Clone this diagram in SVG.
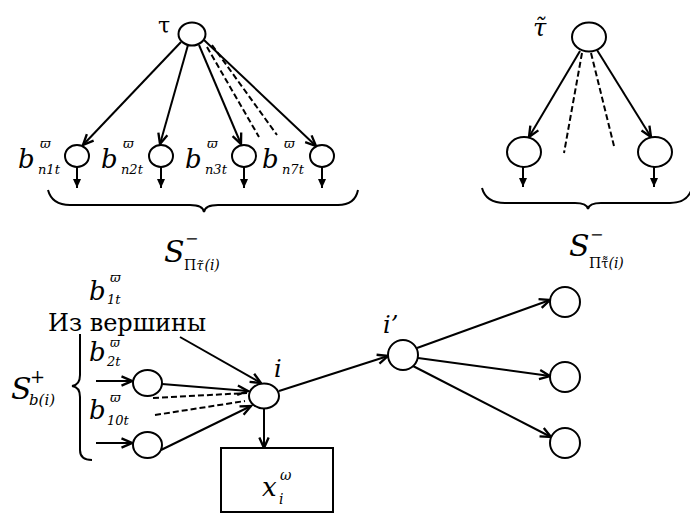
<svg xmlns="http://www.w3.org/2000/svg" width="690" height="517" viewBox="0 0 690 517">
<defs>
<style>
.n{fill:#fff;stroke:#000;stroke-width:2}
.c{fill:none;stroke:#000;stroke-width:2}
.d{fill:none;stroke:#000;stroke-width:2;stroke-dasharray:6 3}
.br{fill:none;stroke:#000;stroke-width:2}
.t{fill:#000;font-family:'DejaVu Serif','Liberation Serif',serif}
.it{font-style:italic}
</style>
<marker id="a" markerUnits="userSpaceOnUse" markerWidth="14" markerHeight="14" refX="10" refY="5" orient="auto" viewBox="0 0 12 10">
<path d="M1,1 L10,5 L1,9" fill="none" stroke="#000" stroke-width="2"/>
</marker>
<marker id="f" markerUnits="userSpaceOnUse" markerWidth="10" markerHeight="10" refX="9" refY="4" orient="auto" viewBox="0 0 10 8">
<path d="M0,0 L9,4 L0,8 Z" fill="#000"/>
</marker>
</defs>
<rect width="690" height="517" fill="#fff"/>

<g id="connectors">
<line class="c" x1="181" y1="42" x2="83" y2="145" marker-end="url(#a)"/>
<line class="c" x1="188" y1="45" x2="160" y2="144" marker-end="url(#a)"/>
<line class="c" x1="199" y1="45" x2="241" y2="144" marker-end="url(#a)"/>
<line class="c" x1="204" y1="40" x2="316" y2="146" marker-end="url(#a)"/>
<line class="d" x1="207" y1="47" x2="259" y2="137"/>
<line class="d" x1="212" y1="45" x2="277" y2="135"/>
<line class="c" x1="77" y1="167" x2="77" y2="188" marker-end="url(#f)"/>
<line class="c" x1="161" y1="167" x2="161" y2="188" marker-end="url(#f)"/>
<line class="c" x1="244" y1="167" x2="244" y2="188" marker-end="url(#f)"/>
<line class="c" x1="322" y1="167" x2="322" y2="188" marker-end="url(#f)"/>

<line class="c" x1="580" y1="51" x2="529" y2="137" marker-end="url(#a)"/>
<line class="c" x1="597" y1="50" x2="651" y2="137" marker-end="url(#a)"/>
<line class="d" x1="582" y1="53" x2="564" y2="153"/>
<line class="d" x1="591" y1="53" x2="614" y2="146"/>
<line class="c" x1="523" y1="167" x2="523" y2="187" marker-end="url(#f)"/>
<line class="c" x1="654" y1="167" x2="654" y2="187" marker-end="url(#f)"/>

<line class="c" x1="180" y1="337" x2="261" y2="383" marker-end="url(#a)"/>
<line class="c" x1="96" y1="381" x2="132" y2="381" marker-end="url(#a)"/>
<line class="c" x1="96" y1="443" x2="132" y2="443" marker-end="url(#a)"/>
<line class="c" x1="162" y1="384" x2="248" y2="391" marker-end="url(#a)"/>
<line class="c" x1="161" y1="450" x2="251" y2="406" marker-end="url(#a)"/>
<line class="d" x1="153" y1="398" x2="247" y2="393"/>
<line class="d" x1="155" y1="415" x2="245" y2="401"/>
<line class="c" x1="264" y1="409" x2="264" y2="448" marker-end="url(#a)"/>
<line class="c" x1="279" y1="391" x2="388" y2="356" marker-end="url(#a)"/>
<line class="c" x1="417" y1="348" x2="550" y2="300" marker-end="url(#a)"/>
<line class="c" x1="418" y1="358" x2="550" y2="376" marker-end="url(#a)"/>
<line class="c" x1="413" y1="366" x2="551" y2="437" marker-end="url(#a)"/>
</g>

<g id="braces">
<path class="br" d="M48,190 Q52,205 70,205 L190,205 Q203,205 204,212 Q205,205 218,205 L338,205 Q355,205 358,190"/>
<path class="br" d="M482,188 Q486,203 505,203 L575,203 Q587,203 588,209 Q589,203 601,203 L670,203 Q688,203 692,188"/>
<path class="br" d="M80,334 L80,375 Q80,385 72,386 Q80,387 80,397 L80,450 Q80,460 92,460"/>
</g>

<g id="tau">
<ellipse class="n" cx="192" cy="34" rx="13.5" ry="11.5"/>
<text class="t" x="158" y="33" font-size="22">τ</text>
</g>
<g id="bn1t">
<ellipse class="n" cx="77" cy="156" rx="12" ry="11"/>
<text class="t it" x="18" y="168" font-size="26">b</text>
<text class="t it" x="40" y="148" font-size="13">ϖ</text>
<text class="t it" x="38" y="174" font-size="13">n1t</text>
</g>
<g id="bn2t">
<ellipse class="n" cx="161" cy="156" rx="12" ry="11"/>
<text class="t it" x="101" y="168" font-size="26">b</text>
<text class="t it" x="123" y="148" font-size="13">ϖ</text>
<text class="t it" x="121" y="174" font-size="13">n2t</text>
</g>
<g id="bn3t">
<ellipse class="n" cx="244" cy="156" rx="12" ry="11"/>
<text class="t it" x="185" y="168" font-size="26">b</text>
<text class="t it" x="207" y="148" font-size="13">ϖ</text>
<text class="t it" x="205" y="174" font-size="13">n3t</text>
</g>
<g id="bn7t">
<ellipse class="n" cx="322" cy="156" rx="12" ry="11"/>
<text class="t it" x="262" y="168" font-size="26">b</text>
<text class="t it" x="284" y="148" font-size="13">ϖ</text>
<text class="t it" x="282" y="174" font-size="13">n7t</text>
</g>
<g id="label-S-left">
<text class="t it" x="164" y="262" font-size="30">S</text>
<text class="t" x="185" y="244" font-size="16">−</text>
<text class="t" x="184" y="270" font-size="14">Π<tspan font-style="italic" font-size="13">τ̃</tspan><tspan dx="1" font-style="italic">(i)</tspan></text>
</g>

<g id="tau-tilde">
<ellipse class="n" cx="589" cy="37" rx="17" ry="14.5"/>
<text class="t it" x="533" y="36" font-size="24">τ̃</text>
</g>
<g id="rt1">
<ellipse class="n" cx="524" cy="152" rx="17" ry="15"/>
</g>
<g id="rt2">
<ellipse class="n" cx="655" cy="152" rx="17" ry="15"/>
</g>
<g id="label-S-right">
<text class="t it" x="569" y="256" font-size="30">S</text>
<text class="t" x="590" y="240" font-size="16">−</text>
<text class="t" x="589" y="268" font-size="14">Π<tspan font-size="13">τ̃̃</tspan><tspan font-style="italic">(i)</tspan></text>
</g>

<g id="b1t">
<text class="t it" x="89" y="300" font-size="26">b</text>
<text class="t it" x="110" y="282" font-size="13">ϖ</text>
<text class="t it" x="107" y="304" font-size="13">1t</text>
</g>
<text class="t" x="48" y="331" font-size="24">Из вершины</text>
<g id="b2t">
<text class="t it" x="89" y="361" font-size="26">b</text>
<text class="t it" x="110" y="347" font-size="12">ϖ</text>
<text class="t it" x="107" y="366" font-size="13">2t</text>
</g>
<g id="b10t">
<text class="t it" x="89" y="419" font-size="26">b</text>
<text class="t it" x="110" y="402" font-size="13">ϖ</text>
<text class="t it" x="107" y="425" font-size="13">10t</text>
</g>
<g id="S-plus">
<text class="t it" x="11" y="399" font-size="30">S</text>
<text class="t" x="30" y="383" font-size="18">+</text>
<text class="t it" x="29" y="405" font-size="15">b(i)</text>
</g>
<g id="in1">
<ellipse class="n" cx="147.5" cy="383" rx="14.5" ry="13"/>
</g>
<g id="in2">
<ellipse class="n" cx="147.5" cy="445" rx="14.5" ry="13"/>
</g>
<g id="node-i">
<ellipse class="n" cx="264" cy="396" rx="15" ry="12.5"/>
<text class="t it" x="274" y="377" font-size="24">i</text>
</g>
<g id="box-x">
<rect class="n" x="221" y="448" width="112" height="64"/>
<text class="t it" x="262" y="496" font-size="26">x</text>
<text class="t it" x="280" y="480" font-size="14">ω</text>
<text class="t it" x="279" y="504" font-size="14">i</text>
</g>
<g id="node-i2">
<circle class="n" cx="403" cy="355" r="15"/>
<text class="t it" x="383" y="333" font-size="24">i’</text>
</g>
<g id="out1"><circle class="n" cx="565" cy="302" r="15"/></g>
<g id="out2"><circle class="n" cx="565" cy="377" r="15"/></g>
<g id="out3"><circle class="n" cx="565" cy="443" r="15"/></g>
</svg>
